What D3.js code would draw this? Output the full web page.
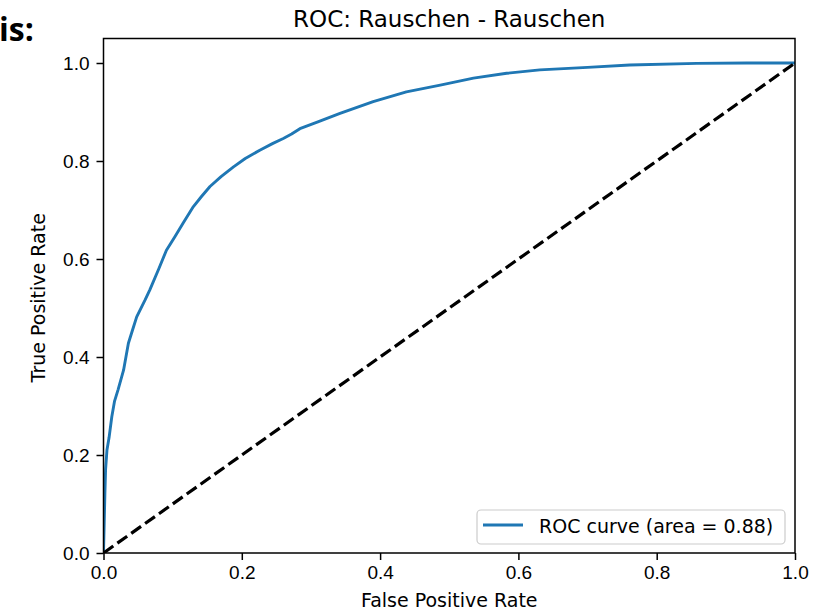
<!DOCTYPE html>
<meta charset="utf-8">
<script src="https://d3js.org/d3.v7.min.js"></script>
<style>
  body { margin: 0; background: #fff; }
  svg { display: block; font-family: "DejaVu Sans", sans-serif; }
  .axis text { font-size: 19px; fill: #000; }
  .axis path, .axis line { stroke: #000; stroke-width: 1.5; }
</style>
<body>
<div id="chart"></div>
<script>

// ROC points
var fpr = [0, 0.001, 0.002, 0.003, 0.005, 0.008, 0.012, 0.016, 0.021, 0.029, 0.036, 0.042, 0.048,
           0.060, 0.067, 0.080, 0.091, 0.103, 0.115, 0.130, 0.142, 0.154, 0.170, 0.188, 0.205,
           0.226, 0.245, 0.260, 0.272, 0.284, 0.310, 0.342, 0.390, 0.438, 0.487, 0.535, 0.583,
           0.631, 0.700, 0.761, 0.858, 0.930, 1.0];
var tpr = [0, 0.06, 0.12, 0.17, 0.21, 0.235, 0.278, 0.31, 0.333, 0.373, 0.428, 0.455, 0.482,
           0.516, 0.537, 0.58, 0.618, 0.645, 0.673, 0.707, 0.728, 0.748, 0.768, 0.788, 0.805,
           0.822, 0.836, 0.846, 0.855, 0.866, 0.880, 0.897, 0.921, 0.941, 0.955, 0.969, 0.979,
           0.986, 0.991, 0.996, 0.9993, 1.0, 1.0];
var chanceLine = [0, 1];
var xTicks = [0, 0.2, 0.4, 0.6, 0.8, 1.0];
var yTicks = [0, 0.2, 0.4, 0.6, 0.8, 1.0];
var aucLabel = "ROC curve (area = 0.88)";

var W = 830, H = 611;
var box = {left: 103.5, right: 795, top: 38.5, bottom: 553};

var svg = d3.select("#chart").append("svg")
  .attr("width", W).attr("height", H);

var x = d3.scaleLinear().domain([0, 1]).range([box.left, box.right]);
var y = d3.scaleLinear().domain([0, 1.05]).range([box.bottom, box.top]);

svg.append("clipPath").attr("id", "clip")
  .append("rect").attr("x", box.left).attr("y", box.top)
  .attr("width", box.right - box.left).attr("height", box.bottom - box.top);

// stray bold text from the cropped screenshot
svg.append("text")
  .attr("x", -1).attr("y", 41)
  .style("font-family", "'Open Sans', sans-serif")
  .style("font-weight", "bold")
  .style("font-size", "32px")
  .text("is:");

var rocData = fpr.map(function(d, i) { return [d, tpr[i]]; });

var line = d3.line()
  .x(function(d) { return x(d[0]); })
  .y(function(d) { return y(d[1]); });

var plot = svg.append("g").attr("clip-path", "url(#clip)");

plot.append("path")
  .datum(rocData)
  .attr("fill", "none")
  .attr("stroke", "#1f77b4")
  .attr("stroke-width", 2.9)
  .attr("stroke-linejoin", "round")
  .attr("d", line);

plot.append("path")
  .datum(chanceLine.map(function(d) { return [d, d]; }))
  .attr("fill", "none")
  .attr("stroke", "#000")
  .attr("stroke-width", 3.2)
  .attr("stroke-dasharray", "12,5")
  .attr("d", line);

// axes
svg.append("g")
  .attr("class", "axis")
  .attr("transform", "translate(0," + box.bottom + ")")
  .call(d3.axisBottom(x).tickValues(xTicks).tickFormat(d3.format(".1f"))
    .tickSizeInner(7).tickSizeOuter(0).tickPadding(6));

svg.append("g")
  .attr("class", "axis")
  .attr("transform", "translate(" + box.left + ",0)")
  .call(d3.axisLeft(y).tickValues(yTicks).tickFormat(d3.format(".1f"))
    .tickSizeInner(7).tickSizeOuter(0).tickPadding(7));

svg.selectAll(".axis .domain").remove();

// frame
svg.append("rect")
  .attr("x", box.left).attr("y", box.top)
  .attr("width", box.right - box.left).attr("height", box.bottom - box.top)
  .attr("fill", "none").attr("stroke", "#000").attr("stroke-width", 1.5);

// title and labels
svg.append("text")
  .attr("x", (box.left + box.right) / 2).attr("y", 27)
  .attr("text-anchor", "middle")
  .style("font-size", "23px")
  .text("ROC: Rauschen - Rauschen");

svg.append("text")
  .attr("x", (box.left + box.right) / 2).attr("y", 607)
  .attr("text-anchor", "middle")
  .style("font-size", "19px")
  .text("False Positive Rate");

svg.append("text")
  .attr("transform", "translate(45," + ((box.top + box.bottom) / 2 + 2) + ") rotate(-90)")
  .attr("text-anchor", "middle")
  .style("font-size", "19px")
  .text("True Positive Rate");

// legend
var lg = svg.append("g");
lg.append("rect")
  .attr("x", 477).attr("y", 510).attr("width", 308).attr("height", 34)
  .attr("rx", 4)
  .attr("fill", "#fff").attr("fill-opacity", 0.8)
  .attr("stroke", "#ccc").attr("stroke-width", 1.2);
lg.append("line")
  .attr("x1", 483).attr("x2", 523).attr("y1", 525).attr("y2", 525)
  .attr("stroke", "#1f77b4").attr("stroke-width", 2.9);
lg.append("text")
  .attr("x", 539).attr("y", 533)
  .style("font-size", "19px")
  .text(aucLabel);

</script>
</body>
